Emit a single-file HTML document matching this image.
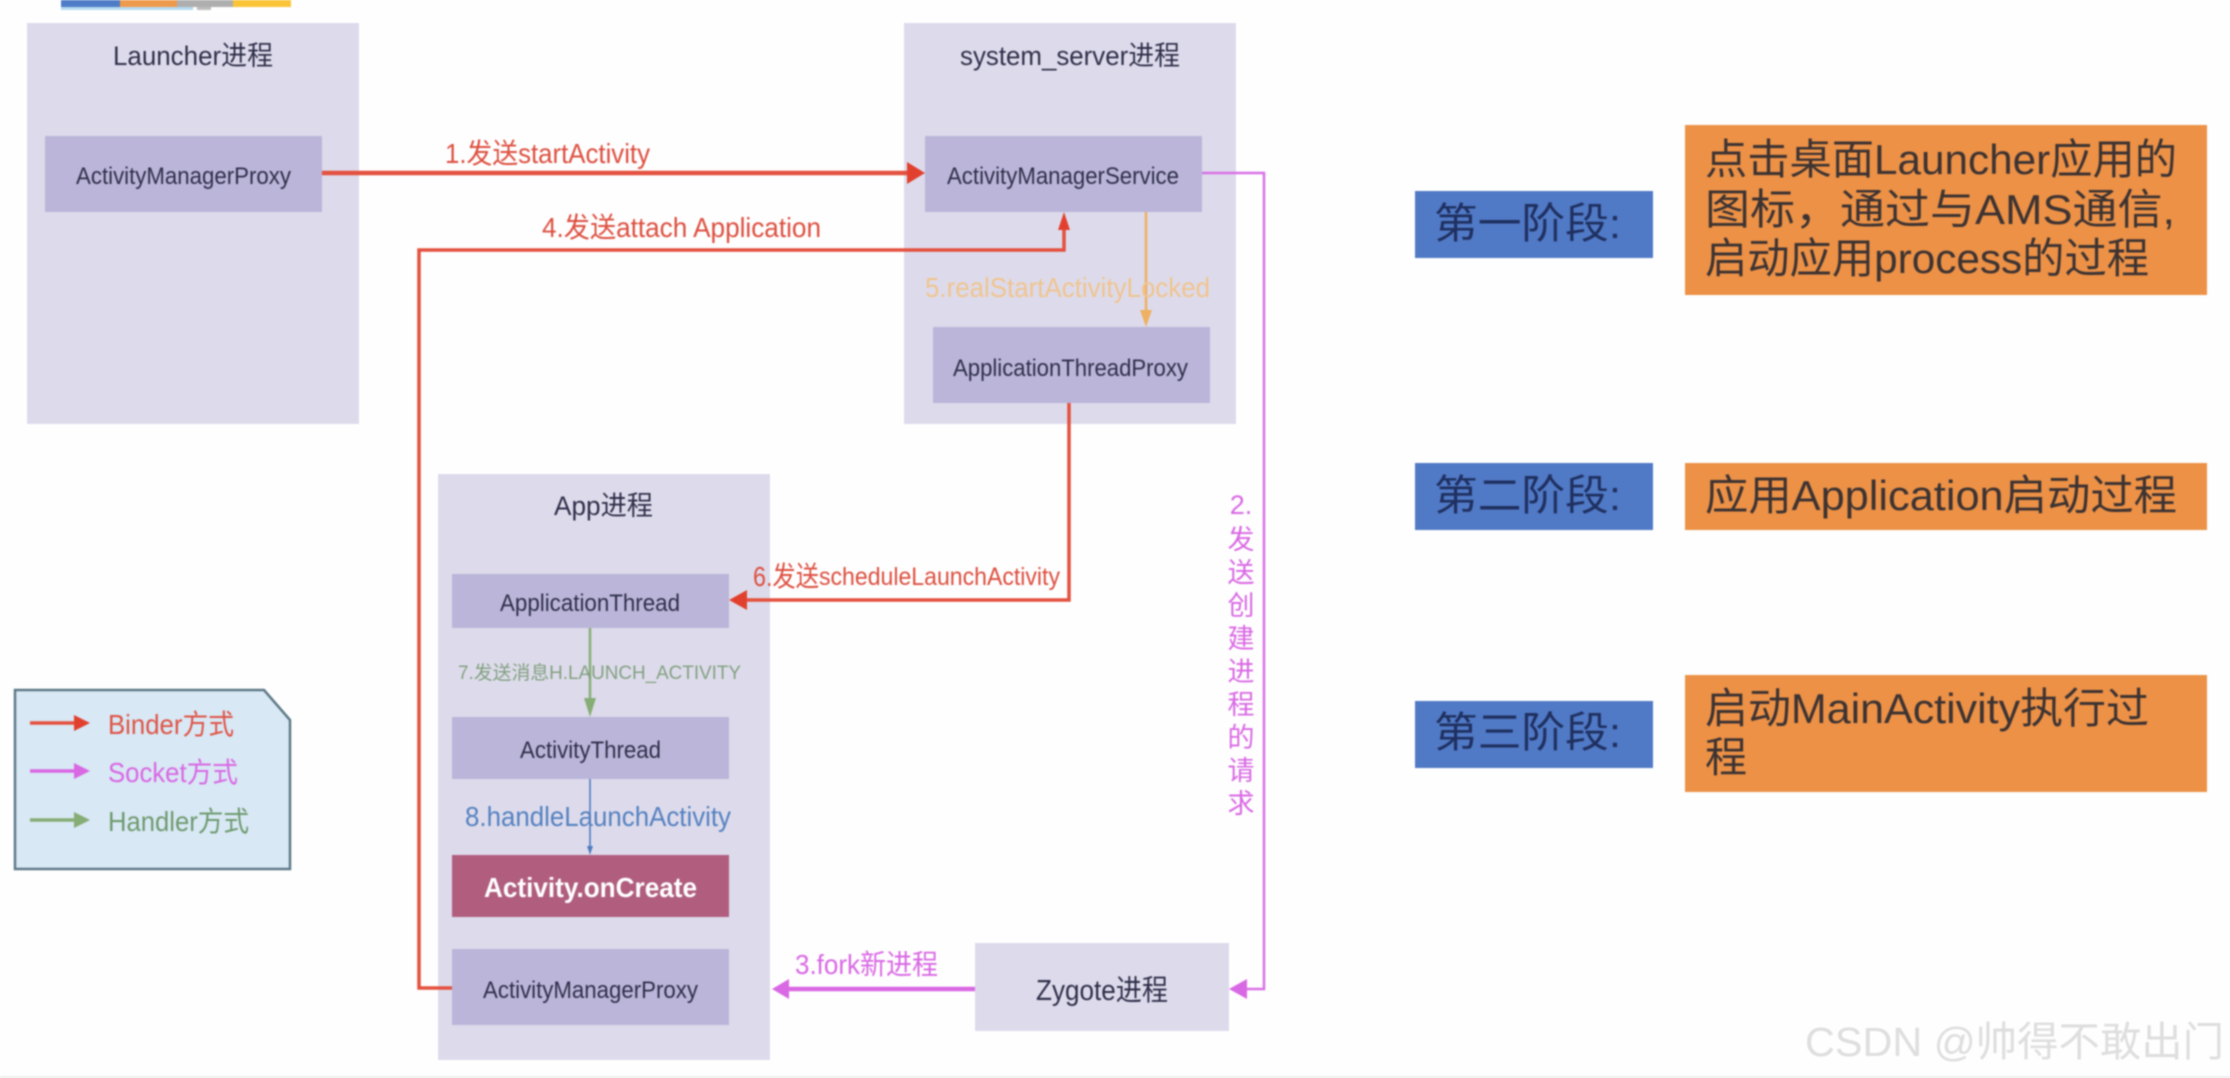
<!DOCTYPE html>
<html><head><meta charset="utf-8"><style>
html,body{margin:0;padding:0;background:#fff;width:2230px;height:1078px;overflow:hidden}
svg{display:block;filter:blur(.85px)}
text{font-family:"Liberation Sans","Noto Sans CJK SC",sans-serif;fill:#2f2f4a}
.r{fill:#dd4f40}.m{fill:#d968e4}
.big{font-size:42px;fill:#3d3332}
.bl{font-size:42px;fill:#1f3060}
</style></head><body>
<svg width="2230" height="1078" viewBox="0 0 2230 1078" xmlns="http://www.w3.org/2000/svg">
<rect width="2230" height="1078" fill="#fefefe"/>
<rect x="0" y="1076" width="2230" height="2" fill="#eeeeee"/>
<!-- top strip -->
<rect x="61" y="7" width="132" height="3" fill="#b5daf0"/>
<rect x="61" y="0" width="59" height="7" fill="#4f7cc6"/>
<rect x="120" y="0" width="57" height="7" fill="#ee9a4d"/>
<rect x="177" y="0" width="56" height="7" fill="#aeaeae"/>
<rect x="197" y="7" width="14" height="3" fill="#bdbdbd"/>
<rect x="233" y="0" width="58" height="7" fill="#fbc437"/>
<!-- process boxes -->
<rect x="27" y="23" width="332" height="401" fill="#dddbeb"/>
<rect x="904" y="23" width="332" height="401" fill="#dddbeb"/>
<rect x="438" y="474" width="332" height="586" fill="#dddbeb"/>
<rect x="975" y="943" width="254" height="88" fill="#dddbeb"/>
<!-- inner boxes -->
<rect x="45" y="136" width="277" height="76" fill="#bab5d9"/>
<rect x="925" y="136" width="277" height="76" fill="#bab5d9"/>
<rect x="933" y="327" width="277" height="76" fill="#bab5d9"/>
<rect x="452" y="574" width="277" height="54" fill="#bab5d9"/>
<rect x="452" y="717" width="277" height="62" fill="#bab5d9"/>
<rect x="452" y="855" width="277" height="62" fill="#b05d7e"/>
<rect x="452" y="949" width="277" height="76" fill="#bab5d9"/>
<!-- connectors -->
<g fill="none">
<path d="M322 173H910" stroke="#e4503f" stroke-width="4.5"/>
<path d="M452 988H419V250H1064V226" stroke="#e4503f" stroke-width="3.5"/>
<path d="M1069 403V600H745" stroke="#e4503f" stroke-width="3.5"/>
<path d="M1146 212V316" stroke="#eeb061" stroke-width="2.5"/>
<path d="M1202 173H1264V989H1244" stroke="#d970e8" stroke-width="2.5"/>
<path d="M975 989H788" stroke="#d968e4" stroke-width="4.5"/>
<path d="M590 628V704" stroke="#86ad76" stroke-width="2.5"/>
<path d="M590 779V846" stroke="#4f7cbf" stroke-width="1.6"/>
</g>
<polygon points="925,173 907,162 907,184" fill="#e2402f"/>
<polygon points="1064,212 1058,230 1070,230" fill="#e2402f"/>
<polygon points="1146,327 1140,310 1152,310" fill="#eeb061"/>
<polygon points="729,600 747,590 747,610" fill="#e2402f"/>
<polygon points="1229,989 1247,979 1247,999" fill="#d968e4"/>
<polygon points="772,989 789,979 789,999" fill="#d968e4"/>
<polygon points="590,717 584,698 596,698" fill="#86ad76"/>
<polygon points="590,855 587,846 593,846" fill="#4f7cbf"/>
<!-- box labels -->
<text x="113" y="65" font-size="27" textLength="160" lengthAdjust="spacingAndGlyphs">Launcher进程</text>
<text x="960" y="65" font-size="27" textLength="220" lengthAdjust="spacingAndGlyphs">system_server进程</text>
<text x="76" y="184" font-size="24" textLength="215" lengthAdjust="spacingAndGlyphs">ActivityManagerProxy</text>
<text x="947" y="184" font-size="24" textLength="232" lengthAdjust="spacingAndGlyphs">ActivityManagerService</text>
<text x="953" y="376" font-size="24" textLength="235" lengthAdjust="spacingAndGlyphs">ApplicationThreadProxy</text>
<text x="554" y="515" font-size="27" textLength="99" lengthAdjust="spacingAndGlyphs">App进程</text>
<text x="500" y="611" font-size="24" textLength="180" lengthAdjust="spacingAndGlyphs">ApplicationThread</text>
<text x="520" y="758" font-size="24" textLength="141" lengthAdjust="spacingAndGlyphs">ActivityThread</text>
<text x="484" y="897" font-size="28" font-weight="700" textLength="213" lengthAdjust="spacingAndGlyphs" style="fill:#fff">Activity.onCreate</text>
<text x="483" y="998" font-size="24" textLength="215" lengthAdjust="spacingAndGlyphs">ActivityManagerProxy</text>
<text x="1036" y="1000" font-size="29" textLength="132" lengthAdjust="spacingAndGlyphs">Zygote进程</text>
<!-- connector labels -->
<text x="445" y="163" font-size="28" class="r" textLength="205" lengthAdjust="spacingAndGlyphs">1.发送startActivity</text>
<text x="542" y="237" font-size="28" class="r" textLength="279" lengthAdjust="spacingAndGlyphs">4.发送attach Application</text>
<text x="925" y="297" font-size="28" textLength="285" lengthAdjust="spacingAndGlyphs" style="fill:#f0c48f">5.realStartActivityLocked</text>
<text x="753" y="586" font-size="28" class="r" textLength="66" lengthAdjust="spacingAndGlyphs">6.发送</text>
<text x="819" y="585" font-size="25" class="r" textLength="241" lengthAdjust="spacingAndGlyphs">scheduleLaunchActivity</text>
<text x="458" y="679" font-size="19" textLength="283" lengthAdjust="spacingAndGlyphs" style="fill:#83a081">7.发送消息H.LAUNCH_ACTIVITY</text>
<text x="465" y="826" font-size="28" textLength="266" lengthAdjust="spacingAndGlyphs" style="fill:#5581c0">8.handleLaunchActivity</text>
<text x="795" y="974" font-size="28" class="m" textLength="143" lengthAdjust="spacingAndGlyphs">3.fork新进程</text>
<!-- vertical label -->
<g font-size="27" text-anchor="middle">
<text x="1241" y="514" class="m">2.</text>
<text x="1241" y="549" class="m">发</text>
<text x="1241" y="582" class="m">送</text>
<text x="1241" y="615" class="m">创</text>
<text x="1241" y="648" class="m">建</text>
<text x="1241" y="681" class="m">进</text>
<text x="1241" y="714" class="m">程</text>
<text x="1241" y="747" class="m">的</text>
<text x="1241" y="780" class="m">请</text>
<text x="1241" y="813" class="m">求</text>
</g>
<!-- legend -->
<polygon points="15,690 264,690 290,720 290,869 15,869" fill="#d8e8f4" stroke="#5f7a88" stroke-width="2.5"/>
<path d="M30 723H78" stroke="#e4503f" stroke-width="3.5"/>
<polygon points="90,723 74,715 74,731" fill="#e2402f"/>
<path d="M30 771H78" stroke="#d968e4" stroke-width="3.5"/>
<polygon points="90,771 74,763 74,779" fill="#d968e4"/>
<path d="M30 820H78" stroke="#86ad76" stroke-width="3.5"/>
<polygon points="90,820 74,812 74,828" fill="#86ad76"/>
<text x="108" y="734" font-size="28" textLength="126" lengthAdjust="spacingAndGlyphs" style="fill:#df5548">Binder方式</text>
<text x="108" y="782" font-size="28" textLength="130" lengthAdjust="spacingAndGlyphs" style="fill:#d968e4">Socket方式</text>
<text x="108" y="831" font-size="28" textLength="141" lengthAdjust="spacingAndGlyphs" style="fill:#6f9a70">Handler方式</text>
<!-- right panel -->
<rect x="1415" y="191" width="238" height="67" fill="#5079c6"/>
<rect x="1415" y="463" width="238" height="67" fill="#5079c6"/>
<rect x="1415" y="701" width="238" height="67" fill="#5079c6"/>
<rect x="1685" y="125" width="522" height="170" fill="#ec9146"/>
<rect x="1685" y="463" width="522" height="67" fill="#ec9146"/>
<rect x="1685" y="675" width="522" height="117" fill="#ec9146"/>
<text x="1434" y="238" class="bl" textLength="187" lengthAdjust="spacingAndGlyphs">第一阶段:</text>
<text x="1434" y="510" class="bl" textLength="187" lengthAdjust="spacingAndGlyphs">第二阶段:</text>
<text x="1434" y="747" class="bl" textLength="187" lengthAdjust="spacingAndGlyphs">第三阶段:</text>
<text x="1705" y="174" class="big" textLength="472" lengthAdjust="spacingAndGlyphs">点击桌面Launcher应用的</text>
<text x="1705" y="224" class="big" textLength="470" lengthAdjust="spacingAndGlyphs">图标，通过与AMS通信,</text>
<text x="1705" y="273" class="big" textLength="444" lengthAdjust="spacingAndGlyphs">启动应用process的过程</text>
<text x="1705" y="510" class="big" textLength="472" lengthAdjust="spacingAndGlyphs">应用Application启动过程</text>
<text x="1705" y="723" class="big" textLength="444" lengthAdjust="spacingAndGlyphs">启动MainActivity执行过</text>
<text x="1705" y="772" class="big">程</text>
<!-- watermark -->
<text x="1805" y="1056" font-size="41" textLength="419" lengthAdjust="spacingAndGlyphs" style="fill:#dedede">CSDN @帅得不敢出门</text>
</svg>
</body></html>
